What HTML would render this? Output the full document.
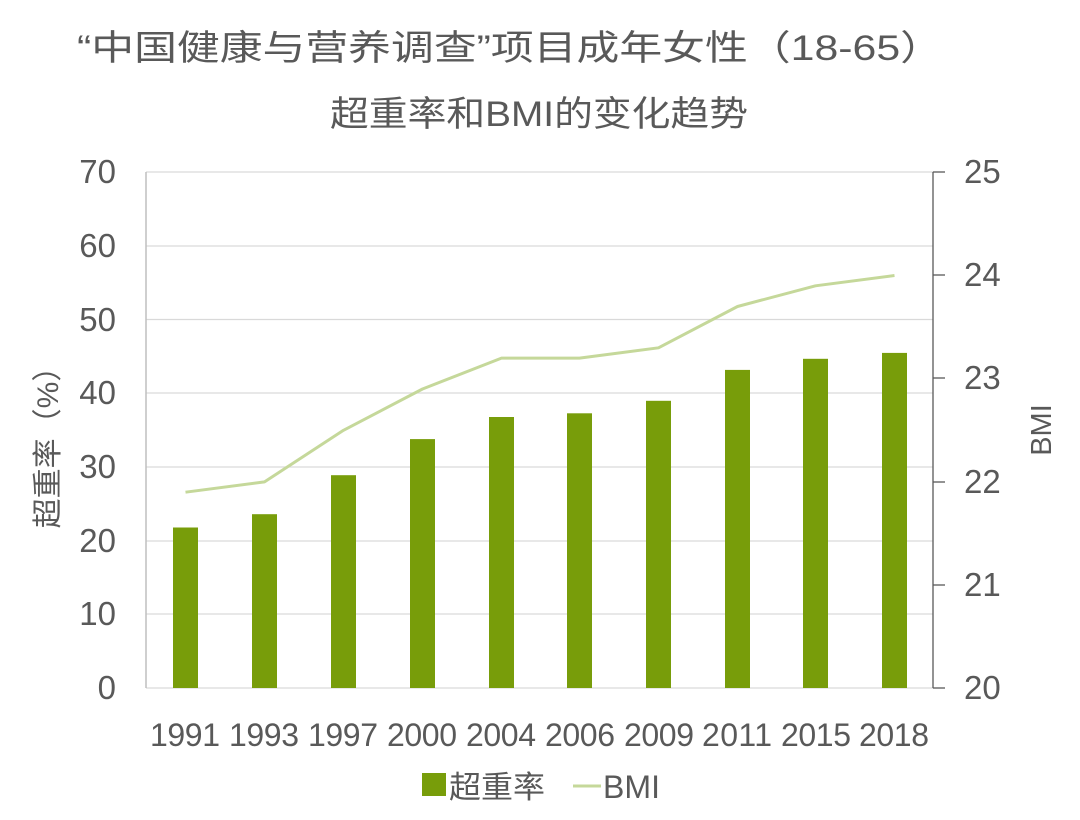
<!DOCTYPE html>
<html><head><meta charset="utf-8"><style>
html,body{margin:0;padding:0;background:#fff;}
svg{display:block;}
text{font-family:"Liberation Sans","Noto Sans CJK SC",sans-serif;fill:#595959;}
</style></head><body>
<svg width="1080" height="820" viewBox="0 0 1080 820" xmlns="http://www.w3.org/2000/svg">
<rect width="1080" height="820" fill="#fff"/>
<text x="77" y="60" font-size="35" textLength="866" lengthAdjust="spacingAndGlyphs">“中国健康与营养调查”项目成年女性（18-65）</text>
<text x="330" y="126" font-size="35" textLength="418" lengthAdjust="spacingAndGlyphs">超重率和BMI的变化趋势</text>
<!-- gridlines -->
<g stroke="#d9d9d9" stroke-width="1.3">
<line x1="146" x2="933" y1="172" y2="172"/>
<line x1="146" x2="933" y1="246" y2="246"/>
<line x1="146" x2="933" y1="319.5" y2="319.5"/>
<line x1="146" x2="933" y1="393" y2="393"/>
<line x1="146" x2="933" y1="467" y2="467"/>
<line x1="146" x2="933" y1="541" y2="541"/>
<line x1="146" x2="933" y1="614" y2="614"/>
<line x1="146" x2="933" y1="688" y2="688"/>
</g>
<line x1="146" x2="146" y1="172" y2="688" stroke="#bfbfbf" stroke-width="1.5"/>
<line x1="933" x2="933" y1="172" y2="688" stroke="#595959" stroke-width="1.3"/>
<g stroke="#595959" stroke-width="1.3">
<line x1="933" x2="945" y1="172" y2="172"/>
<line x1="933" x2="945" y1="275" y2="275"/>
<line x1="933" x2="945" y1="378" y2="378"/>
<line x1="933" x2="945" y1="482" y2="482"/>
<line x1="933" x2="945" y1="585" y2="585"/>
<line x1="933" x2="945" y1="688" y2="688"/>
</g>
<g font-size="33" text-anchor="end">
<text x="116" y="183">70</text>
<text x="116" y="257">60</text>
<text x="116" y="331">50</text>
<text x="116" y="404">40</text>
<text x="116" y="478">30</text>
<text x="116" y="552">20</text>
<text x="116" y="625">10</text>
<text x="116" y="699">0</text>
</g>
<g font-size="33" text-anchor="start">
<text x="964" y="183">25</text>
<text x="964" y="286">24</text>
<text x="964" y="389">23</text>
<text x="964" y="493">22</text>
<text x="964" y="596">21</text>
<text x="964" y="699">20</text>
</g>
<text transform="translate(58,440) rotate(-90)" font-size="30" text-anchor="middle">超重率（%）</text>
<text transform="translate(1051,430) rotate(-90)" font-size="29" text-anchor="middle">BMI</text>
<g fill="#789d0a">
<rect x="173" y="527.5" width="25" height="160.5"/>
<rect x="252" y="514.2" width="25" height="173.8"/>
<rect x="331" y="475.2" width="25" height="212.8"/>
<rect x="410" y="439.1" width="25" height="248.9"/>
<rect x="489" y="417" width="25" height="271"/>
<rect x="567" y="413.3" width="25" height="274.7"/>
<rect x="646" y="400.8" width="25" height="287.2"/>
<rect x="725" y="369.9" width="25" height="318.1"/>
<rect x="803" y="358.8" width="25" height="329.2"/>
<rect x="882" y="352.9" width="25" height="335.1"/>
</g>
<polyline fill="none" stroke="#c5d89a" stroke-width="3" stroke-linejoin="round"
points="185.5,492.2 264.5,481.9 343.5,430.3 422.5,389 501.5,358.1 579.5,358.1 658.5,347.8 737.5,306.5 815.5,285.8 894.5,275.5"/>
<g font-size="32" text-anchor="middle" lengthAdjust="spacingAndGlyphs">
<text x="185" y="746" textLength="70">1991</text>
<text x="264" y="746" textLength="70">1993</text>
<text x="343" y="746" textLength="70">1997</text>
<text x="422" y="746" textLength="70">2000</text>
<text x="501" y="746" textLength="70">2004</text>
<text x="580" y="746" textLength="70">2006</text>
<text x="659" y="746" textLength="70">2009</text>
<text x="737" y="746" textLength="70">2011</text>
<text x="816" y="746" textLength="70">2015</text>
<text x="894" y="746" textLength="70">2018</text>
</g>
<rect x="422" y="773" width="24" height="23" fill="#789d0a"/>
<text x="449" y="798" font-size="31" textLength="96" lengthAdjust="spacingAndGlyphs">超重率</text>
<line x1="573" x2="601" y1="786" y2="786" stroke="#c5d89a" stroke-width="3"/>
<text x="603" y="798" font-size="32" textLength="57" lengthAdjust="spacingAndGlyphs">BMI</text>
</svg>
</body></html>
